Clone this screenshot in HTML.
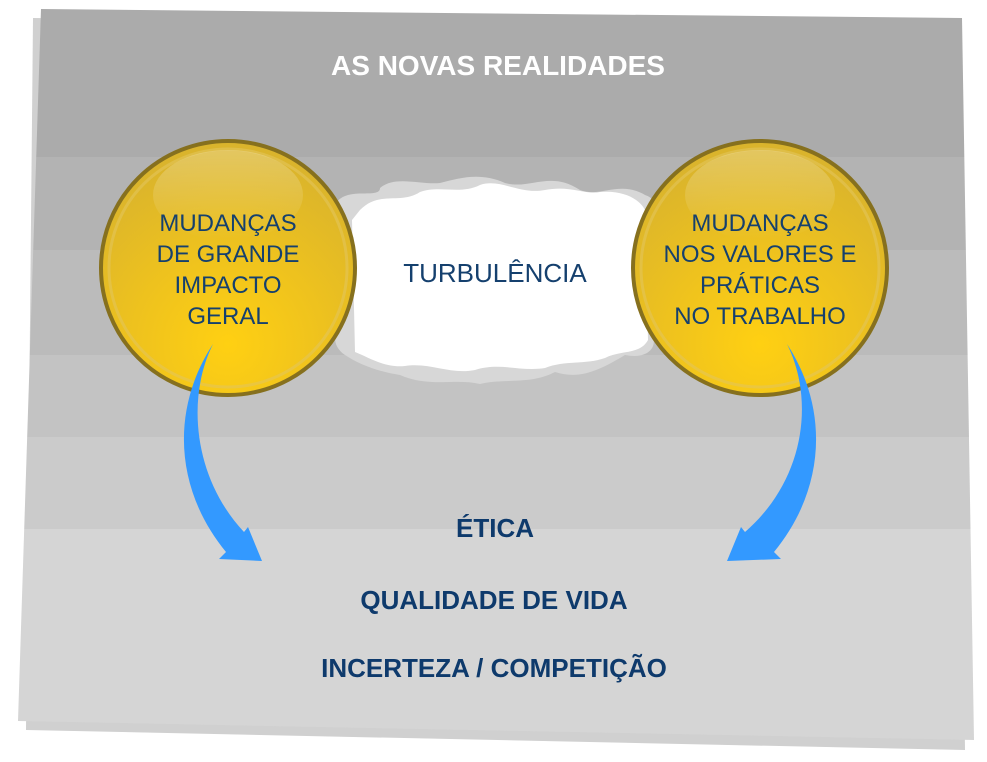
<!DOCTYPE html>
<html><head><meta charset="utf-8"><style>
html,body{margin:0;padding:0;background:#fff;width:987px;height:762px;overflow:hidden}
svg text{font-family:"Liberation Sans",sans-serif}
</style></head><body>
<svg width="987" height="762" viewBox="0 0 987 762" xmlns="http://www.w3.org/2000/svg">
<defs>
<clipPath id="pg"><polygon points="41,9 962,18 974,740 18,721"/></clipPath>
<radialGradient id="gold" cx="50%" cy="80%" r="75%">
<stop offset="0" stop-color="#ffd012"/><stop offset="0.5" stop-color="#eec21e"/><stop offset="1" stop-color="#dab42c"/>
</radialGradient>
<linearGradient id="hl" x1="0" y1="0" x2="0" y2="1">
<stop offset="0" stop-color="#fff" stop-opacity="0.25"/><stop offset="1" stop-color="#fff" stop-opacity="0"/>
</linearGradient>
</defs>
<polygon points="33,18 955,28 965,750 26,730" fill="#d0d0d0"/>
<g clip-path="url(#pg)">
<rect x="0" y="0" width="987" height="157" fill="#ababab"/>
<rect x="0" y="157" width="987" height="93" fill="#b3b3b3"/>
<rect x="0" y="250" width="987" height="105" fill="#bbbbbb"/>
<rect x="0" y="355" width="987" height="82" fill="#c3c3c3"/>
<rect x="0" y="437" width="987" height="92" fill="#cbcbcb"/>
<rect x="0" y="529" width="987" height="240" fill="#d5d5d5"/>
</g>
<text x="498" y="75" text-anchor="middle" fill="#fff" font-size="28" font-weight="bold">AS NOVAS REALIDADES</text>
<path d="M335,205 C345,185 380,200 380,188 C395,175 420,185 440,183 C460,178 480,172 505,183 C530,190 550,170 580,190 C600,198 620,180 645,195 C660,200 660,215 650,225 L650,330 C660,345 650,360 625,355 C600,370 580,380 555,372 C530,385 505,378 480,384 C455,378 430,388 400,375 C380,372 360,365 345,355 C330,345 335,330 340,320 L340,230 C330,220 330,212 335,205Z" fill="#d7d7d7"/>
<path d="M360,210 C380,190 400,205 420,192 C440,185 460,195 480,185 C500,178 520,195 545,190 C570,185 585,195 600,192 C625,190 640,200 645,210 L648,340 C640,355 620,350 605,358 C585,365 565,360 545,368 C520,372 500,362 475,370 C450,375 430,362 405,366 C385,368 370,358 355,352 L352,220 Z" fill="#fff"/>
<text x="495" y="282" text-anchor="middle" fill="#15406e" font-size="26">TURBULÊNCIA</text>
<circle cx="228" cy="268" r="127" fill="url(#gold)" stroke="#86701e" stroke-width="4"/>
<circle cx="228" cy="268" r="119" fill="none" stroke="#e2c55a" stroke-width="3" opacity="0.6"/>
<ellipse cx="228" cy="195" rx="75" ry="45" fill="url(#hl)"/>
<circle cx="760" cy="268" r="127" fill="url(#gold)" stroke="#86701e" stroke-width="4"/>
<circle cx="760" cy="268" r="119" fill="none" stroke="#e2c55a" stroke-width="3" opacity="0.6"/>
<ellipse cx="760" cy="195" rx="75" ry="45" fill="url(#hl)"/>
<g fill="#15406e" font-size="24" text-anchor="middle">
<text x="228" y="231">MUDANÇAS</text><text x="228" y="262">DE GRANDE</text><text x="228" y="293">IMPACTO</text><text x="228" y="324">GERAL</text>
<text x="760" y="231">MUDANÇAS</text><text x="760" y="262">NOS VALORES E</text><text x="760" y="293">PRÁTICAS</text><text x="760" y="324">NO TRABALHO</text>
</g>
<path d="M213,344 C170,410 175,490 226,552 L219,559 L262,561 L248,527 L244,532 C195,480 185,400 213,344Z" fill="#3399ff"/>
<path d="M787,344 C830,410 825,490 774,552 L781,559 L727,561 L741,527 L745,532 C805,480 815,400 787,344Z" fill="#3399ff"/>
<g fill="#0e3a6c" font-size="26" font-weight="bold" text-anchor="middle">
<text x="495" y="537">ÉTICA</text>
<text x="494" y="609">QUALIDADE DE VIDA</text>
<text x="494" y="677">INCERTEZA / COMPETIÇÃO</text>
</g>
</svg>
</body></html>
